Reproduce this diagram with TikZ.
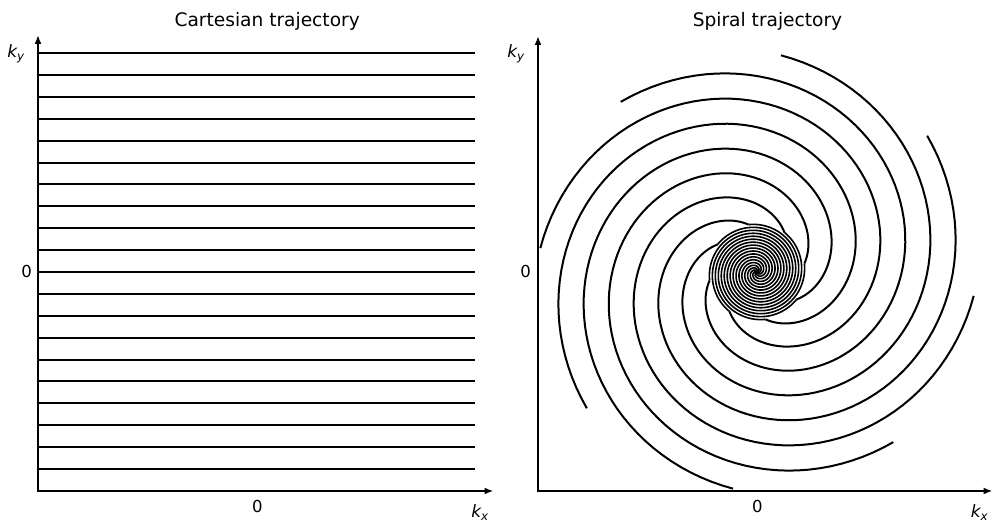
\documentclass[tikz,border=0pt]{standalone}
\usepackage{fontspec}
\setmainfont{DejaVu Sans}
\usetikzlibrary{arrows.meta}
\begin{document}
\begin{tikzpicture}[x=1pt,y=1pt,
  axes/.style={line width=2.5pt, line join=miter, {Latex[length=9pt,width=7pt]}-{Latex[length=9pt,width=7pt]}},
  traj/.style={line width=2pt},
  core/.style={line width=1.6pt},
  ticklbl/.style={font=\fontsize{16.5}{17}\selectfont, inner sep=0pt, anchor=base},
  axlbl/.style={font=\fontsize{17}{17}\selectfont, inner sep=0pt, anchor=base},
  titlelbl/.style={font=\fontsize{18.6}{20}\selectfont, inner sep=0pt, anchor=base},
]
\useasboundingbox (0,0) rectangle (993,532);

% ---------- left panel: Cartesian ----------
\coordinate (lo) at (38,41);
\coordinate (ltop) at (38,497);
\coordinate (lright) at (493.5,41);
\foreach \j in {-9,...,10}{
  \coordinate (la\j) at (38,{round(260+21.9*(\j))});
  \coordinate (lb\j) at (475,{round(260+21.9*(\j))});
  \draw[traj] (la\j) -- (lb\j);
}
\draw[axes] (ltop) -- (lo) -- (lright);
\node[titlelbl] (t1) at (267.2,505.3) {Cartesian trajectory};
\node[ticklbl] (lx0) at (257.3,19.5) {0};
\node[ticklbl] (ly0) at (26.5,254.5) {0};
\node[axlbl] (lkx) at (480,14) {\itshape k\textsubscript{\itshape x}};
\node[axlbl] (lky) at (16,474) {\itshape k\textsubscript{\itshape y}};

% ---------- right panel: spiral ----------
\coordinate (ro) at (538,41);
\coordinate (rtop) at (538,496);
\coordinate (rright) at (992.5,41);
\coordinate (c) at (757,260);
\foreach \k in {0,...,7}{
  \draw[traj, shift={(c)}, line join=round]
    plot[domain=0:298.5, samples=100]
      ({(218-0.5690*\x)*cos(38.7+45*\k-\x)}, {(218-0.5690*\x)*sin(38.7+45*\k-\x)});
  \draw[core, shift={(c)}]
    plot[domain=298.5:1021, samples=360]
      ({(48.15-0.06632*(\x-298.5))*cos(38.7+45*\k-\x)}, {(48.15-0.06632*(\x-298.5))*sin(38.7+45*\k-\x)});
}
\draw[axes] (rtop) -- (ro) -- (rright);
\node[titlelbl] (t2) at (767.5,505.3) {Spiral trajectory};
\node[ticklbl] (rx0) at (757.3,19.5) {0};
\node[ticklbl] (ry0) at (525.5,254.5) {0};
\node[axlbl] (rkx) at (979.5,14) {\itshape k\textsubscript{\itshape x}};
\node[axlbl] (rky) at (516,474) {\itshape k\textsubscript{\itshape y}};
\end{tikzpicture}
\end{document}
